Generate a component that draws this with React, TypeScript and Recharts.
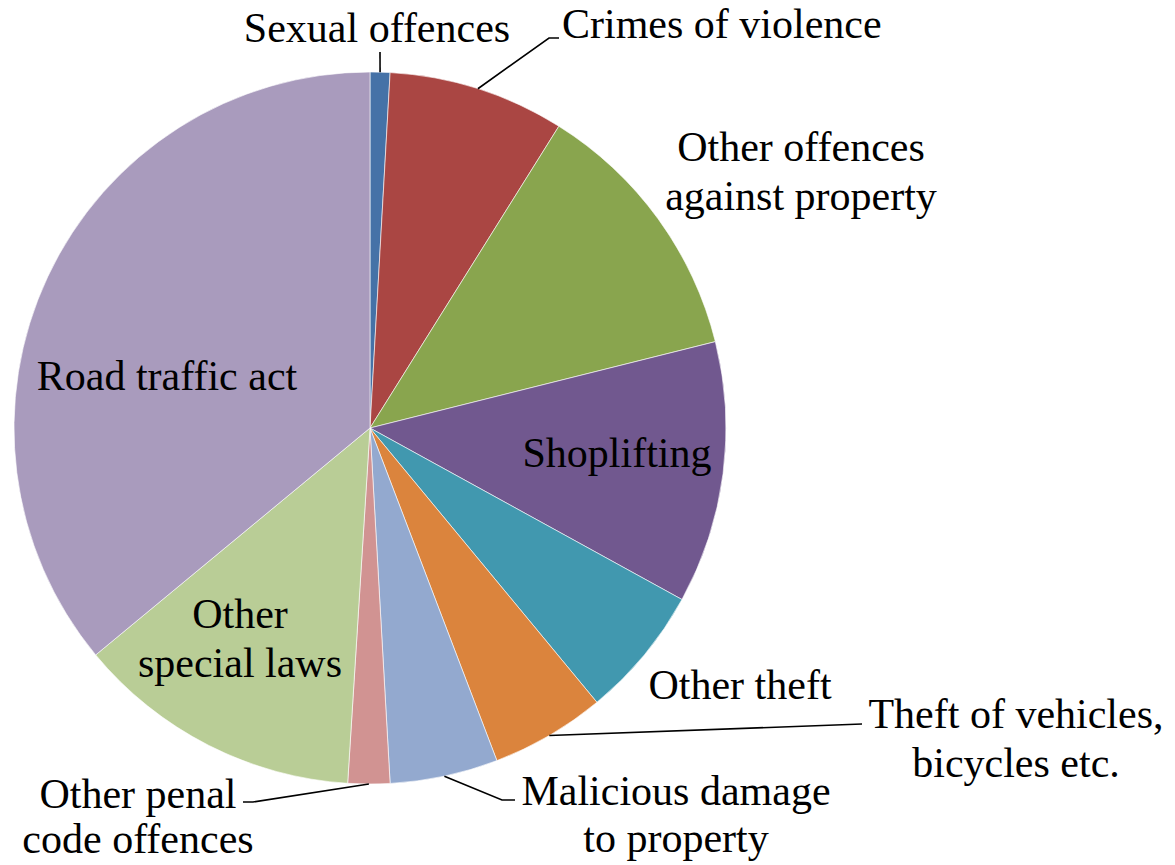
import React from "react";
import { PieChart, Pie, Cell } from "recharts";

// ---- data ----
const categories = [
  "Sexual offences",
  "Crimes of violence",
  "Other offences against property",
  "Shoplifting",
  "Other theft",
  "Theft of vehicles, bicycles etc.",
  "Malicious damage to property",
  "Other penal code offences",
  "Other special laws",
  "Road traffic act",
];
const shares = [0.9, 8.0, 12.2, 11.9, 6.0, 5.2, 4.9, 1.9, 13.0, 36.0];
const labelTexts = [
  ["Sexual offences"],
  ["Crimes of violence"],
  ["Other offences", "against property"],
  ["Shoplifting"],
  ["Other theft"],
  ["Theft of vehicles,", "bicycles etc."],
  ["Malicious damage", "to property"],
  ["Other penal", "code offences"],
  ["Other", "special laws"],
  ["Road traffic act"],
];

// ---- styles / layout ----
const colors = [
  "#4572A7",
  "#AA4643",
  "#89A54E",
  "#71588F",
  "#4198AF",
  "#DB843D",
  "#93A9CF",
  "#D19392",
  "#B9CD96",
  "#A99BBD",
];

type LabelLayout = {
  dx: number;
  dy: number;
  anchor: "start" | "middle" | "end";
  lineH?: number;
  leader?: [number, number][];
};
const labelLayout: LabelLayout[] = [
  { dx: 7, dy: -386, anchor: "middle", leader: [[10, -376]] },
  { dx: 192, dy: -390, anchor: "start", leader: [[179, -390], [189, -390]] },
  { dx: 431, dy: -267, anchor: "middle" },
  { dx: 247, dy: 39, anchor: "middle" },
  { dx: 370, dy: 271, anchor: "middle" },
  { dx: 646, dy: 300, anchor: "middle", leader: [[492, 296]] },
  { dx: 306, dy: 377, anchor: "middle", lineH: 47, leader: [[132, 372], [145, 372]] },
  { dx: -232, dy: 380, anchor: "middle", lineH: 45, leader: [[-117, 374], [-127, 374]] },
  { dx: -130, dy: 200, anchor: "middle" },
  { dx: -203, dy: -38, anchor: "middle" },
];

const data = categories.map((name, i) => ({ name, value: shares[i] }));

const RAD = Math.PI / 180;
const FONT = "Liberation Serif, Times New Roman, serif";
const FONT_SIZE = 42;
const LINE_H = 49;

const renderLabel = (props: any) => {
  const { cx, cy, midAngle, outerRadius, index } = props;
  const lay = labelLayout[index];
  const lines = labelTexts[index];
  const x = cx + lay.dx;
  const y = cy + lay.dy;
  const lh = lay.lineH ?? LINE_H;
  let leader = null;
  if (lay.leader) {
    const sx = cx + outerRadius * Math.cos(-midAngle * RAD);
    const sy = cy + outerRadius * Math.sin(-midAngle * RAD);
    const pts = [[sx, sy], ...lay.leader.map(([px, py]) => [cx + px, cy + py])];
    leader = (
      <polyline
        points={pts.map((p) => p.join(",")).join(" ")}
        fill="none"
        stroke="#000"
        strokeWidth={1.6}
      />
    );
  }
  return (
    <g key={`lbl-${index}`}>
      {leader}
      <text
        x={x}
        y={y}
        textAnchor={lay.anchor}
        fontFamily={FONT}
        fontSize={FONT_SIZE}
        fill="#000"
      >
        {lines.map((t, k) => (
          <tspan key={k} x={x} dy={k === 0 ? 0 : lh}>
            {t}
          </tspan>
        ))}
      </text>
    </g>
  );
};

export default function App() {
  return (
    <div style={{ position: "absolute", left: 0, top: 0, width: 1175, height: 865, background: "#fff" }}>
      <PieChart width={1175} height={865} margin={{ top: 0, right: 0, bottom: 0, left: 0 }}>
        <Pie
          data={data}
          dataKey="value"
          nameKey="name"
          cx={370}
          cy={428}
          outerRadius={356}
          startAngle={90}
          endAngle={-270}
          stroke="#ffffff"
          strokeWidth={0.6}
          label={renderLabel}
          labelLine={false}
          isAnimationActive={false}
        >
          {data.map((d, i) => (
            <Cell key={d.name} fill={colors[i]} />
          ))}
        </Pie>
      </PieChart>
    </div>
  );
}
